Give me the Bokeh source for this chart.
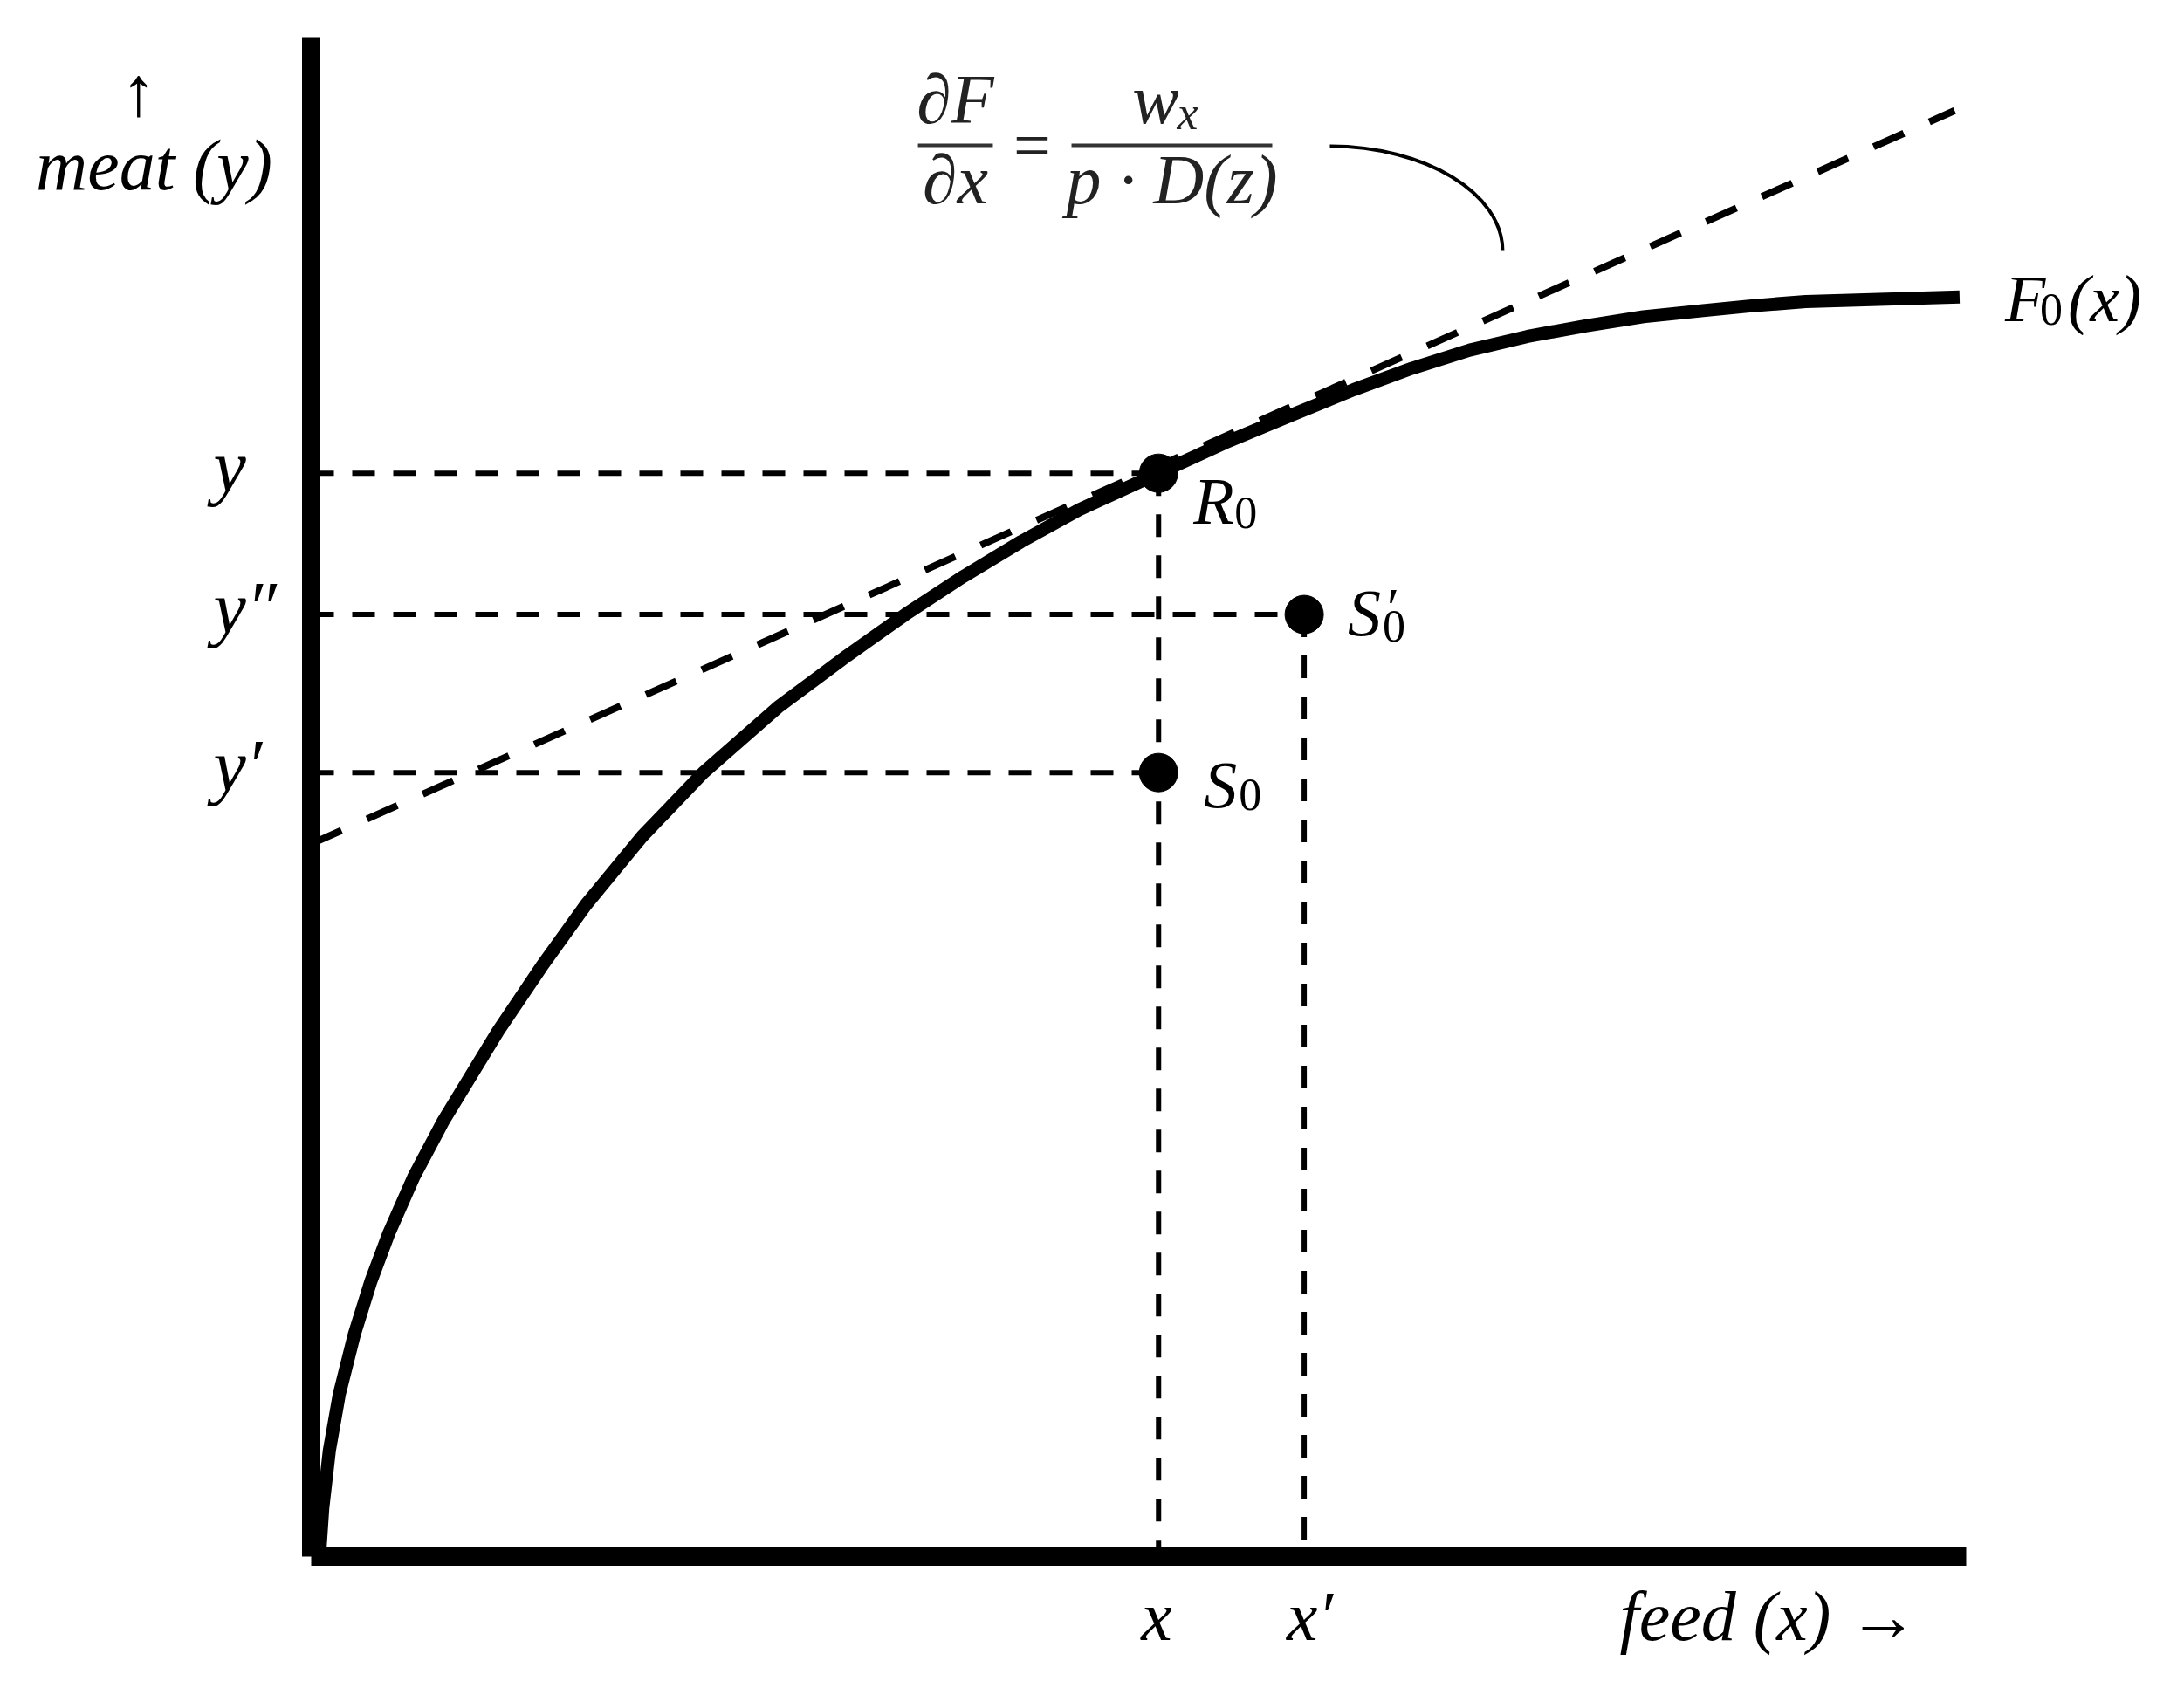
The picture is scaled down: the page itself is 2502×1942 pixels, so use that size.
from bokeh.plotting import figure
from bokeh.models import Range1d, Grid
from bokeh.core.properties import value
from bokeh.embed import file_html
from bokeh.resources import INLINE

# ---------------- data (abstract units) ----------------
FEED = [0.05, 0.07, 0.11, 0.17, 0.26, 0.36, 0.47, 0.62, 0.80, 1.13, 1.39, 1.66,
        2.00, 2.37, 2.82, 3.24, 3.59, 3.94, 4.29, 4.64, 5.12, 5.52, 5.94, 6.30,
        6.65, 7.00, 7.35, 7.70, 8.05, 8.41, 8.69, 9.03, 9.96]
MEAT = [0.00, 0.32, 0.70, 1.07, 1.46, 1.81, 2.13, 2.50, 2.87, 3.46, 3.88, 4.29,
        4.74, 5.16, 5.59, 5.93, 6.20, 6.45, 6.68, 6.89, 7.13, 7.33, 7.52, 7.68,
        7.82, 7.94, 8.03, 8.10, 8.16, 8.20, 8.23, 8.26, 8.29]

AXIS_MAX_X = 10.0
AXIS_MAX_Y = 10.0

POINT_NAMES = ["R", "S", "S"]          # R0, S0, S0'
POINT_SUBS = ["0", "0", "0"]
POINT_FEED = [5.12, 5.12, 6.00]
POINT_MEAT = [7.13, 5.16, 6.20]

Y_TICK_VALUES = [7.13, 6.20, 5.16]
Y_TICK_LABELS = ["y", "y\u2033", "y\u2032"]
X_TICK_VALUES = [5.12, 6.00]
X_TICK_LABELS = ["x", "x\u2032"]

TANGENT_INTERCEPT = 4.69
TANGENT_SLOPE = 0.486
TANGENT_END = 9.93

# ---------------- layout ----------------
W, H = 2486, 1926
PX_X, PX_Y = 189.6, 174.1          # pixels per unit
OX, OY = 356, 1783                  # origin in figure pixels

FONT = value("Liberation Serif")

p = figure(width=W, height=H,
           x_range=Range1d(-OX / PX_X, (W - OX) / PX_X),
           y_range=Range1d(-(H - OY) / PX_Y, OY / PX_Y),
           output_backend="svg", toolbar_location=None,
           x_axis_location=None, y_axis_location=None,
           min_border=0, outline_line_color=None,
           background_fill_color="white", border_fill_color="white")
for r in list(p.center):
    if isinstance(r, Grid):
        r.visible = False
        r.grid_line_color = None

# guide lines (dashed)
p.segment(x0=[0] * 3, y0=POINT_MEAT, x1=POINT_FEED, y1=POINT_MEAT,
          line_color="black", line_width=6, line_dash="26 21")
vx = [POINT_FEED[0], POINT_FEED[2]]
vy = [POINT_MEAT[0], POINT_MEAT[2]]
p.segment(x0=vx, y0=vy, x1=vx, y1=[0, 0],
          line_color="black", line_width=6, line_dash="26 21")

# tangent line
p.line(x=[0, TANGENT_END],
       y=[TANGENT_INTERCEPT, TANGENT_INTERCEPT + TANGENT_SLOPE * TANGENT_END],
       line_color="black", line_width=8, line_dash="38 32")

# production function
p.line(x=FEED, y=MEAT, line_color="black", line_width=15, line_join="round")

# axes
p.segment(x0=[0, 0], y0=[0, 0], x1=[0, AXIS_MAX_X], y1=[AXIS_MAX_Y, 0],
          line_color="black", line_width=21, line_cap="butt")

# points
p.scatter(x=POINT_FEED, y=POINT_MEAT, marker="circle", size=44,
          fill_color="black", line_color="black")

# tick-like labels
p.text(x=[0] * 3, y=Y_TICK_VALUES, text=Y_TICK_LABELS, text_font=FONT,
       text_font_style="italic", text_font_size="84px", text_align="left",
       text_baseline="alphabetic", x_offset=-112, y_offset=-8, text_color="black")
p.text(x=X_TICK_VALUES, y=[0, 0], text=X_TICK_LABELS, text_font=FONT,
       text_font_style="italic", text_font_size="80px", text_align="left",
       text_baseline="alphabetic", x_offset=-20, y_offset=68, text_color="black")

# axis titles
p.text(x=[AXIS_MAX_X], y=[0], text=["feed (x) \u2192"], text_font=FONT,
       text_font_style="italic", text_font_size="80px", text_align="right",
       text_baseline="alphabetic", x_offset=-55, y_offset=68, text_color="black")
p.text(x=[0], y=[AXIS_MAX_Y], text=["meat (y)"], text_font=FONT,
       text_font_style="italic", text_font_size="82px", text_align="center",
       text_baseline="alphabetic", x_offset=-180, y_offset=147, text_color="black")
p.text(x=[0], y=[AXIS_MAX_Y], text=["\u2191"], text_font=FONT,
       text_font_size="80px", text_align="center",
       text_baseline="alphabetic", x_offset=-198, y_offset=62, text_color="black")

# point labels
lab_dx = [40, 52, 50]
lab_dy = [32, 14, -2]
sub_dx = [87, 92, 90]
sub_dy = [45, 25, 13]
for i in range(3):
    p.text(x=[POINT_FEED[i]], y=[POINT_MEAT[i]], text=[POINT_NAMES[i]], text_font=FONT,
           text_font_style="italic", text_font_size="76px", text_align="left",
           text_baseline="alphabetic", x_offset=lab_dx[i], y_offset=lab_dy[i],
           text_color="black")
    p.text(x=[POINT_FEED[i]], y=[POINT_MEAT[i]], text=[POINT_SUBS[i]], text_font=FONT,
           text_font_size="52px", text_align="left",
           text_baseline="alphabetic", x_offset=sub_dx[i], y_offset=sub_dy[i],
           text_color="black")
p.text(x=[POINT_FEED[2]], y=[POINT_MEAT[2]], text=["\u2032"], text_font=FONT,
       text_font_size="64px", text_align="left", text_baseline="alphabetic",
       x_offset=95, y_offset=-8, text_color="black")

# curve label F0(x)
ex, ey = FEED[-1], MEAT[-1]
p.text(x=[ex], y=[ey], text=["F"], text_font=FONT, text_font_style="italic",
       text_font_size="76px", text_align="left", text_baseline="alphabetic",
       x_offset=52, y_offset=2, text_color="black")
p.text(x=[ex], y=[ey], text=["0"], text_font=FONT,
       text_font_size="52px", text_align="left", text_baseline="alphabetic",
       x_offset=92, y_offset=14, text_color="black")
p.text(x=[ex], y=[ey], text=["(x)"], text_font=FONT, text_font_style="italic",
       text_font_size="76px", text_align="left", text_baseline="alphabetic",
       x_offset=124, y_offset=2, text_color="black")

# formula  dF/dx = w_x / (p . D(z))
BAR_Y = 9.288
BAR1 = (3.666, 4.119)
BAR2 = (4.594, 5.807)
p.segment(x0=[BAR1[0], BAR2[0]], y0=[BAR_Y, BAR_Y], x1=[BAR1[1], BAR2[1]], y1=[BAR_Y, BAR_Y],
          line_color="#333333", line_width=4)
c1 = (BAR1[0] + BAR1[1]) / 2
c2 = (BAR2[0] + BAR2[1]) / 2
p.text(x=[c1, c1], y=[BAR_Y, BAR_Y], text=["\u2202F", "\u2202x"], text_font=FONT,
       text_font_style="italic", text_font_size="80px", text_align="center",
       text_baseline="alphabetic", y_offset=[-52, 40], text_color="#222222")
p.text(x=[(BAR1[1] + BAR2[0]) / 2], y=[BAR_Y], text=["="], text_font=FONT,
       text_font_size="76px", text_align="center", text_baseline="alphabetic",
       y_offset=0, text_color="#222222")
p.text(x=[c2], y=[BAR_Y], text=["p \u00b7 D(z)"], text_font=FONT,
       text_font_style="italic", text_font_size="80px", text_align="center",
       text_baseline="alphabetic", y_offset=40, text_color="#222222")
p.text(x=[c2], y=[BAR_Y], text=["w"], text_font=FONT,
       text_font_style="italic", text_font_size="80px", text_align="right",
       text_baseline="alphabetic", x_offset=8, y_offset=-52, text_color="#222222")
p.text(x=[c2], y=[BAR_Y], text=["x"], text_font=FONT,
       text_font_style="italic", text_font_size="54px", text_align="left",
       text_baseline="alphabetic", x_offset=6, y_offset=-36, text_color="#222222")

# leader arc from formula to tangent
p.bezier(x0=[6.155], y0=[9.282], x1=[7.199], y1=[8.593],
         cx0=[6.731], cy0=[9.282], cx1=[7.199], cy1=[8.973],
         line_color="black", line_width=4)

open("out.html", "w").write(file_html(p, INLINE))
